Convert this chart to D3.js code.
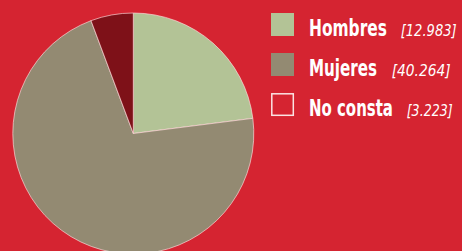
<!DOCTYPE html>
<html>
<head>
<meta charset="utf-8">
<script src="https://cdn.jsdelivr.net/npm/d3@7"></script>
<style>
  html, body { margin: 0; padding: 0; background: #d52431; overflow: hidden; }
  svg { display: block; }
</style>
</head>
<body>
<script>
const categories = ["Hombres", "Mujeres", "No consta"];
const values = [12983, 40264, 3223];
const valueLabels = ["[12.983]", "[40.264]", "[3.223]"];
const colors = ["#b3c396", "#938a72", "#7e1118"];

const width = 462, height = 251;
const svg = d3.select("body").append("svg")
    .attr("width", width)
    .attr("height", height);

svg.append("rect").attr("width", width).attr("height", height).attr("fill", "#d52431");

// pie
const radius = 120.5;
const pie = d3.pie().sort(null).value(d => d.value);
const arc = d3.arc().innerRadius(0).outerRadius(radius);
const data = categories.map((c, i) => ({ name: c, value: values[i], color: colors[i] }));

svg.append("g")
    .attr("transform", "translate(133.3,133.5)")
    .selectAll("path")
    .data(pie(data))
    .enter().append("path")
    .attr("d", arc)
    .attr("fill", d => d.data.color)
    .attr("stroke", "rgba(255,225,225,0.8)")
    .attr("stroke-width", 0.8);

// legend
const legendY = d3.scaleBand().domain(categories).range([10, 130]).paddingInner(0);
const nameWidths = [78, 68, 84];
const valueX = [400.7, 391.7, 406.7];
const valueWidths = [56, 59, 46];
const fontFam = "'Liberation Sans Narrow', 'DejaVu Sans Condensed', sans-serif";

const items = svg.append("g").selectAll("g")
    .data(data)
    .enter().append("g")
    .attr("transform", d => `translate(0,${legendY(d.name)})`);

items.append("rect")
    .attr("x", (d, i) => i === 2 ? 271.8 : 271)
    .attr("y", (d, i) => i === 2 ? 3.8 : 3)
    .attr("width", (d, i) => i === 2 ? 21.5 : 23)
    .attr("height", (d, i) => i === 2 ? 21.5 : 23)
    .attr("fill", (d, i) => i === 2 ? "none" : d.color)
    .attr("stroke", (d, i) => i === 2 ? "#fbe3e3" : "none")
    .attr("stroke-width", 1.5);

// squeeze each text horizontally to the width seen in the reference
function fitText(sel, xs, ws, y) {
    sel.each(function (d, i) {
        const t = d3.select(this);
        const len = this.getComputedTextLength();
        t.attr("transform", `translate(${xs[i]},${y}) scale(${ws[i] / len},1)`);
    });
}

const names = items.append("text")
    .attr("fill", "#ffffff")
    .style("font-family", fontFam)
    .style("font-weight", "bold")
    .style("font-size", "23px")
    .text(d => d.name);
fitText(names, [309, 309, 309], nameWidths, 26);

const vals = items.append("text")
    .attr("fill", "#ffffff")
    .style("font-family", fontFam)
    .style("font-style", "italic")
    .style("font-size", "15px")
    .text((d, i) => valueLabels[i]);
fitText(vals, valueX, valueWidths, 25.5);
</script>
</body>
</html>
